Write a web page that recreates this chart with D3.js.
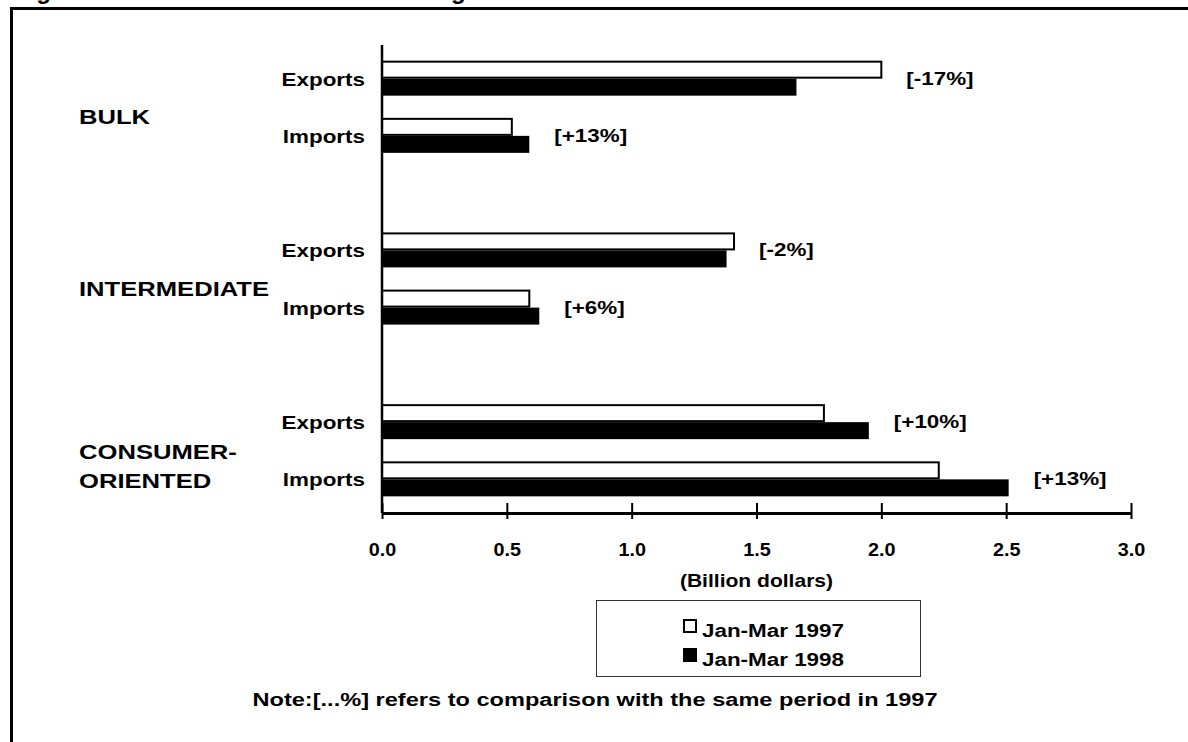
<!DOCTYPE html>
<html>
<head>
<meta charset="utf-8">
<script src="https://cdn.jsdelivr.net/npm/d3@7"></script>
<style>
  body { margin: 0; background: #fff; }
  svg { display: block; }
  text { font-family: "Liberation Sans", Arial, sans-serif; font-weight: bold; fill: #000; }
</style>
</head>
<body>
<svg id="chart" width="1188" height="742"></svg>
<script>
// data (billion dollars)
var groups = ["BULK", "INTERMEDIATE", "CONSUMER-ORIENTED"];
var groupLines = [["BULK"], ["INTERMEDIATE"], ["CONSUMER-", "ORIENTED"]];
var flows = ["Exports", "Imports"];
var periods = ["Jan-Mar 1997", "Jan-Mar 1998"];
var values1997 = [2.00, 0.52, 1.41, 0.59, 1.77, 2.23];
var values1998 = [1.66, 0.59, 1.38, 0.63, 1.95, 2.51];
var changes = ["[-17%]", "[+13%]", "[-2%]", "[+6%]", "[+10%]", "[+13%]"];
var ticks = [0, 0.5, 1.0, 1.5, 2.0, 2.5, 3.0];

var svg = d3.select("#chart");

var x = d3.scaleLinear().domain([0, 3]).range([382, 1131]);
var yGroup = d3.scalePoint().domain(groups).range([45, 513]).padding(0.3625);
var yFlow = d3.scalePoint().domain(flows).range([-28.6, 28.6]);
var yPeriod = d3.scaleBand().domain(periods).range([-17, 17]);

var rows = [];
groups.forEach(function (g, gi) {
    flows.forEach(function (f, fi) {
        var i = gi * 2 + fi;
        rows.push({ group: g, flow: f, v97: values1997[i], v98: values1998[i], change: changes[i] });
    });
});
function rowY(d) { return yGroup(d.group) + yFlow(d.flow); }

// frame and title (clipped at the top edge, as in the source)
svg.append("text")
    .attr("x", 15).attr("y", -1)
    .style("font-size", "24px")
    .text("Figure 3--U.S. Trade Balance Narrowing");
svg.append("path")
    .attr("d", "M11.5,742V8.5H1188")
    .attr("fill", "none").attr("stroke", "#000").attr("stroke-width", 3);

// bars
var row = svg.selectAll("g.row").data(rows).enter().append("g").attr("class", "row");

row.append("rect")
    .attr("x", x(0))
    .attr("y", function (d) { return rowY(d) + yPeriod(periods[0]); })
    .attr("width", function (d) { return x(d.v97) - x(0); })
    .attr("height", yPeriod.bandwidth() - 1)
    .attr("fill", "#fff").attr("stroke", "#000").attr("stroke-width", 2);

row.append("rect")
    .attr("x", x(0))
    .attr("y", function (d) { return rowY(d) + yPeriod(periods[1]); })
    .attr("width", function (d) { return x(d.v98) - x(0); })
    .attr("height", yPeriod.bandwidth())
    .attr("fill", "#000");

row.append("text")
    .attr("transform", function (d) {
        return "translate(" + (x(Math.max(d.v97, d.v98)) + 25) + "," + (rowY(d) + 6) + ") scale(1.18,1)";
    })
    .style("font-size", "19px")
    .text(function (d) { return d.change; });

row.append("text")
    .attr("text-anchor", "end")
    .attr("transform", function (d) { return "translate(365," + (rowY(d) + 7) + ") scale(1.18,1)"; })
    .style("font-size", "19px")
    .text(function (d) { return d.flow; });

// group labels
groups.forEach(function (g, gi) {
    var lines = groupLines[gi];
    lines.forEach(function (t, li) {
        svg.append("text")
            .attr("transform", "translate(79," + (yGroup(g) + 17 + li * 29 - (lines.length - 1) * 9) + ") scale(1.28,1)")
            .style("font-size", "20px")
            .text(t);
    });
});

// axes
svg.append("line")
    .attr("x1", x(0)).attr("x2", x(0))
    .attr("y1", 45).attr("y2", 513)
    .attr("stroke", "#000").attr("stroke-width", 2.5);

var xAxis = svg.append("g")
    .attr("transform", "translate(0,513)")
    .call(d3.axisBottom(x).tickValues(ticks).tickFormat(d3.format(".1f")).tickSizeOuter(0));
xAxis.select(".domain").attr("stroke", "#000").attr("stroke-width", 3);
xAxis.selectAll(".tick line").attr("y1", -10).attr("y2", 6).attr("stroke", "#000").attr("stroke-width", 2);
xAxis.selectAll(".tick text")
    .attr("y", 43).attr("dy", 0)
    .attr("transform", "scale(1.1,1)")
    .style("font-size", "18px")
    .style("font-family", "'Liberation Sans', Arial, sans-serif")
    .style("font-weight", "bold");

svg.append("text")
    .attr("text-anchor", "middle")
    .attr("transform", "translate(" + (x(0) + x(3)) / 2 + ",587) scale(1.17,1)")
    .style("font-size", "18px")
    .text("(Billion dollars)");

// legend
var legend = svg.append("g");
legend.append("rect")
    .attr("x", 596.5).attr("y", 600.5).attr("width", 324).attr("height", 76)
    .attr("fill", "#fff").attr("stroke", "#333").attr("stroke-width", 1);
periods.forEach(function (p, i) {
    var cy = 630 + i * 29;
    legend.append("rect")
        .attr("x", i === 0 ? 684 : 683).attr("y", i === 0 ? cy - 10 : cy - 11)
        .attr("width", i === 0 ? 12 : 14).attr("height", i === 0 ? 12 : 14)
        .attr("fill", i === 0 ? "#fff" : "#000")
        .attr("stroke", "#000").attr("stroke-width", i === 0 ? 2 : 0);
    legend.append("text")
        .attr("transform", "translate(702," + (cy + 7) + ") scale(1.18,1)")
        .style("font-size", "19px")
        .text(p);
});

svg.append("text")
    .attr("text-anchor", "middle")
    .attr("transform", "translate(595,706) scale(1.31,1)")
    .style("font-size", "18px")
    .text("Note:[...%] refers to comparison with the same period in 1997");
</script>
</body>
</html>
